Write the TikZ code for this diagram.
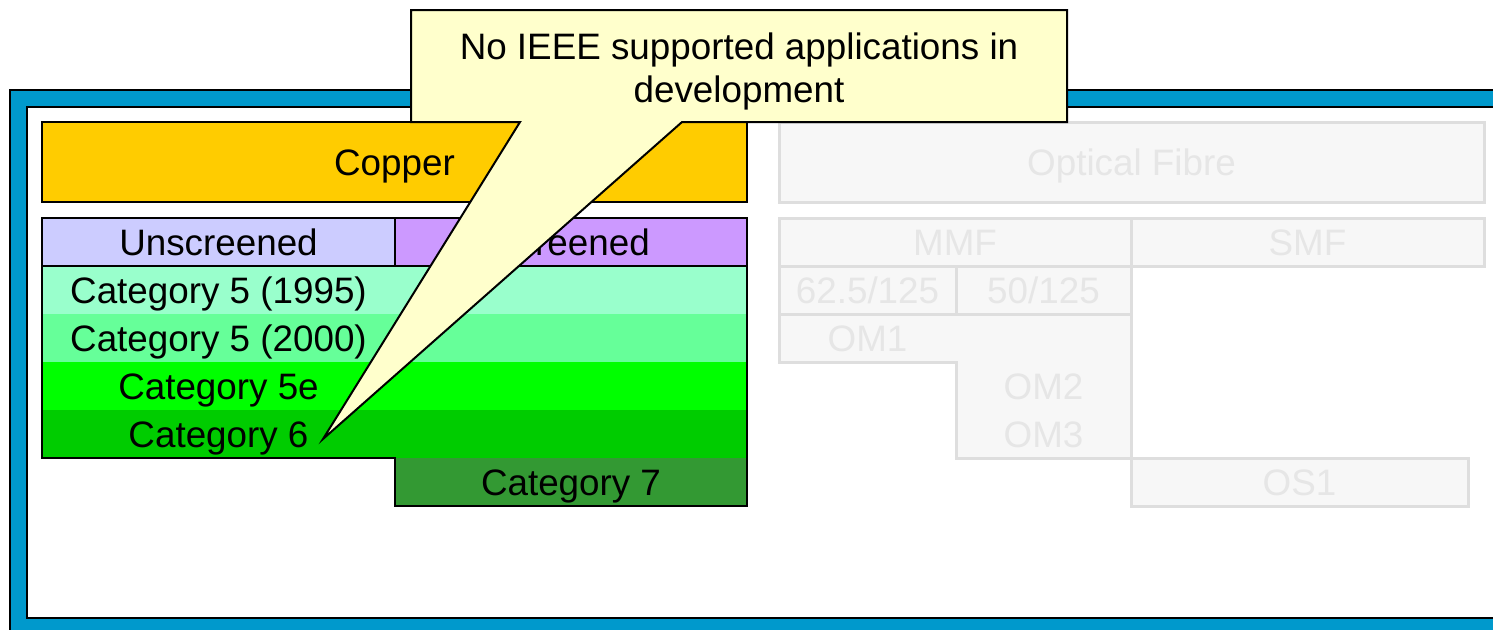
\documentclass[tikz,border=0pt]{standalone}
\usepackage{fontspec}
\setmainfont{Liberation Sans}
\usetikzlibrary{positioning}
\definecolor{frameblue}{HTML}{0099CC}
\definecolor{copper}{HTML}{FFCC00}
\definecolor{unscr}{HTML}{CCCCFF}
\definecolor{scr}{HTML}{CC99FF}
\definecolor{catA}{HTML}{99FFCC}
\definecolor{catB}{HTML}{66FF99}
\definecolor{catC}{HTML}{00FF00}
\definecolor{catD}{HTML}{00CC00}
\definecolor{catE}{HTML}{339933}
\definecolor{callout}{HTML}{FFFFCC}
\definecolor{fadefill}{HTML}{F7F7F7}
\definecolor{fadeline}{HTML}{DEDEDE}
\definecolor{fadetext}{HTML}{E6E6E6}

\begin{document}
\begin{tikzpicture}[x=0.5pt,y=-0.5pt,
    notetext/.style={rectangle,inner sep=0pt,outer sep=0pt,font=\fontsize{18.4}{21.5}\selectfont},
    cell/.style={notetext,text height=13.2pt,text depth=0pt},
    box/.style={cell,draw=black,line width=1pt},
    row/.style={cell,minimum width=352.5pt,minimum height=24pt},
    faded/.style={cell,draw=fadeline,fill=fadefill,text=fadetext,line width=1.5pt}]
  \useasboundingbox (0,0) rectangle (1493,629);
  \clip (0,0) rectangle (1493,629);
  % frame
  \fill[frameblue,even odd rule] (10,90) rectangle (1540,660) (27,107) rectangle (1515,618);
  \draw[line width=1pt] (10,90) rectangle (1540,660);
  \draw[line width=1pt] (27,107) rectangle (1515,618);

  % copper side
  \node[box,fill=copper,minimum width=352.5pt,minimum height=40pt] (copper) at (394.5,162) {Copper};
  \node[row,fill=catA] (cat5a) at (394.5,290) {};
  \node[row,fill=catB] (cat5b) at (394.5,338) {};
  \node[row,fill=catC] (cat5e) at (394.5,386) {};
  \node[row,fill=catD] (cat6) at (394.5,434) {};
  \node[cell,fill=catE,minimum width=176pt,minimum height=24pt] (cat7) at (571,482) {Category 7};
  \node[box,fill=unscr,minimum width=176.5pt,minimum height=24pt] (unscr) at (218.5,242) {Unscreened};
  \node[box,fill=scr,minimum width=176pt,minimum height=24pt] (scr) at (571,242) {Screened};
  \node[cell] (cat5a text) at (unscr |- cat5a) {Category 5 (1995)};
  \node[cell] (cat5b text) at (unscr |- cat5b) {Category 5 (2000)};
  \node[cell] (cat5e text) at (unscr |- cat5e) {Category 5e};
  \node[cell] (cat6 text) at (unscr |- cat6) {Category 6};
  \draw[line width=1pt] (unscr.north west) -- (scr.north east) -- (cat7.south east)
    -- (cat7.south west) -- (cat7.north west) -- (cat6.south west) -- cycle;

  % fibre side
  \node[faded,minimum width=352.5pt,minimum height=40pt] (fibre) at (1131.5,162) {Optical Fibre};
  \node[faded,minimum width=176pt,minimum height=24pt] (mmf) at (955,242) {MMF};
  \node[faded,minimum width=176.5pt,minimum height=24pt] (smf) at (1307.5,242) {SMF};
  \node[faded,minimum width=88.5pt,minimum height=24pt] (fib62) at (867.5,290) {62.5/125};
  \node[faded,minimum width=87.5pt,minimum height=24pt] (fib50) at (1043.5,290) {50/125};
  \draw[fadeline,fill=fadefill,line width=1.5pt] (779,314) -- (1131,314) -- (1131,458)
    -- (956,458) -- (956,362) -- (779,362) -- cycle;
  \node[cell,text=fadetext] (om1) at (fib62 |- cat5b) {OM1};
  \node[cell,text=fadetext] (om2) at (fib50 |- cat5e) {OM2};
  \node[cell,text=fadetext] (om3) at (fib50 |- cat6) {OM3};
  \node[faded,minimum width=168.5pt,minimum height=24pt] (os1) at (1299.5,482) {OS1};

  % callout
  \coordinate (tip) at (323,439);
  \draw[line width=1pt,fill=callout] (411,10) -- (1067,10) -- (1067,122) -- (682,122)
    -- (tip) -- (520,122) -- (411,122) -- cycle;
  \node[notetext,align=center] (note) at (739,71) {No IEEE supported applications in\\development};
\end{tikzpicture}
\end{document}
